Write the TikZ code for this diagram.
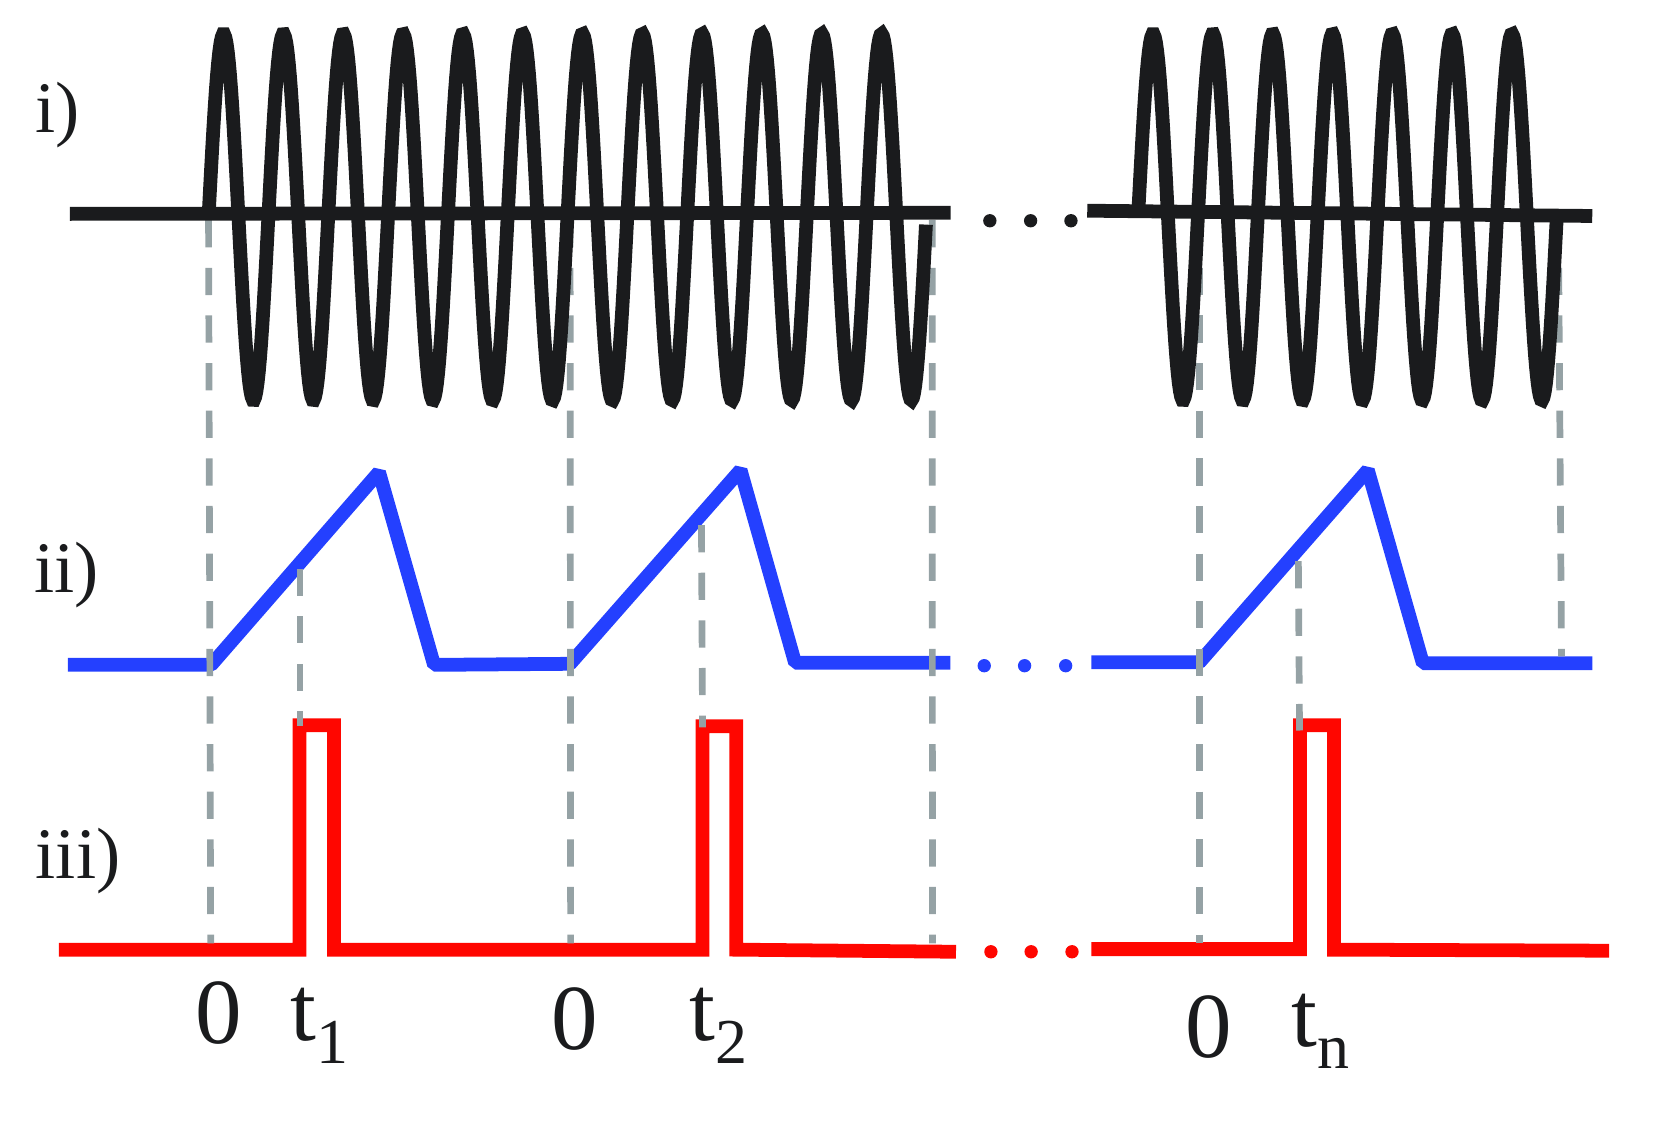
\documentclass[tikz,border=0pt]{standalone}
\usepackage{fontspec}
\setmainfont{Liberation Serif}
\definecolor{wave}{RGB}{26,27,29}
\definecolor{ramp}{RGB}{36,64,255}
\definecolor{pulse}{RGB}{255,6,0}
\definecolor{guidegray}{RGB}{149,162,165}
\newcommand{\tsub}[1]{\raisebox{-6pt}{\fontsize{17.2}{20}\selectfont #1}}

\begin{document}
\begin{tikzpicture}[x=0.1mm, y=0.1mm]
			\tikzstyle{every node}+=[inner sep=0pt, text=wave]
			\tikzstyle{sig}=[line width=3.7pt]
			\tikzstyle{guide}=[draw=guidegray, line width=1.8pt, dash pattern=on 7.3pt off 5.5pt]
			\tikzstyle{rowlabel}=[anchor=base west, font=\fontsize{19.5}{23}\selectfont]
			\tikzstyle{ticklabel}=[font=\fontsize{25}{30}\selectfont]
			\useasboundingbox (0,0) rectangle (1568,-1066);
			\draw [sig, ramp, line join=bevel] (64,-628) -- (199.5,-628) -- (358,-446) -- (410,-628) -- (538.5,-627) -- (699.5,-444) -- (751,-626) -- (897.6,-626);
			\draw [sig, ramp, line join=bevel] (1031,-625.6) -- (1133,-625.6) -- (1292,-444) -- (1344,-626.5) -- (1504,-626.5);
			\fill [ramp] (929.7,-628.8) circle (6.3);
			\fill [ramp] (967.8,-628.8) circle (6.3);
			\fill [ramp] (1006.6,-628.8) circle (6.3);
			\draw [sig, pulse] (55.7,-897) -- (283,-897) -- (283,-685) -- (315.5,-685) -- (315.5,-897) -- (663.6,-897) -- (663.6,-686) -- (695.5,-686) -- (695.5,-897) -- (903,-899);
			\draw [sig, pulse] (1031,-896.5) -- (1228,-896.5) -- (1228,-685) -- (1260,-685) -- (1260,-897) -- (1520,-898);
			\fill [pulse] (936,-899) circle (6.3);
			\fill [pulse] (974,-899) circle (6.3);
			\fill [pulse] (1012.6,-899) circle (6.3);
			\draw [guide] (197,-208) -- (199,-891);
			\draw [guide] (283.4,-537) -- (283.4,-686);
			\draw [guide] (538.5,-208) -- (539,-891);
			\draw [guide] (662.6,-496) -- (663.6,-687);
			\draw [guide] (880.5,-208) -- (880.8,-891);
			\draw [guide] (1133,-208) -- (1133,-891);
			\draw [guide] (1226.4,-530) -- (1227.5,-690);
			\draw [guide] (1472,-208) -- (1475,-620);
			\draw [sig, wave] (66,-202) -- (898,-201);
			\draw [sig, wave] (1027,-199) -- (1504,-204);
			\draw [sig, wave] plot [domain=0:12, samples=601] ({197+56.5*\x}, {-205+173*sin(360*\x)});
			\draw [sig, wave] plot [domain=0:7, samples=351] ({1075+56.5*\x}, {-205+173*sin(360*\x)});
			\fill [wave] (935,-208.5) circle (6.3);
			\fill [wave] (973.5,-208.5) circle (6.3);
			\fill [wave] (1011.6,-208.5) circle (6.3);
			\node (lab1) [rowlabel] at (33,-125) {i)};
			\node (lab2) [rowlabel] at (32,-560) {ii)};
			\node (lab3) [rowlabel] at (33,-829.5) {iii)};
			\node (zero1) [ticklabel, anchor=base] at (207,-986) {0};
			\node (zero2) [ticklabel, anchor=base] at (542.5,-991) {0};
			\node (zero3) [ticklabel, anchor=base] at (1142,-999) {0};
			\node (tick1) [ticklabel, anchor=base west] at (274,-983) {t\tsub{1}};
			\node (tick2) [ticklabel, anchor=base west] at (650.5,-983) {t\tsub{2}};
			\node (tick3) [ticklabel, anchor=base west] at (1219,-988.5) {t\tsub{n}};
		\end{tikzpicture}
\end{document}
